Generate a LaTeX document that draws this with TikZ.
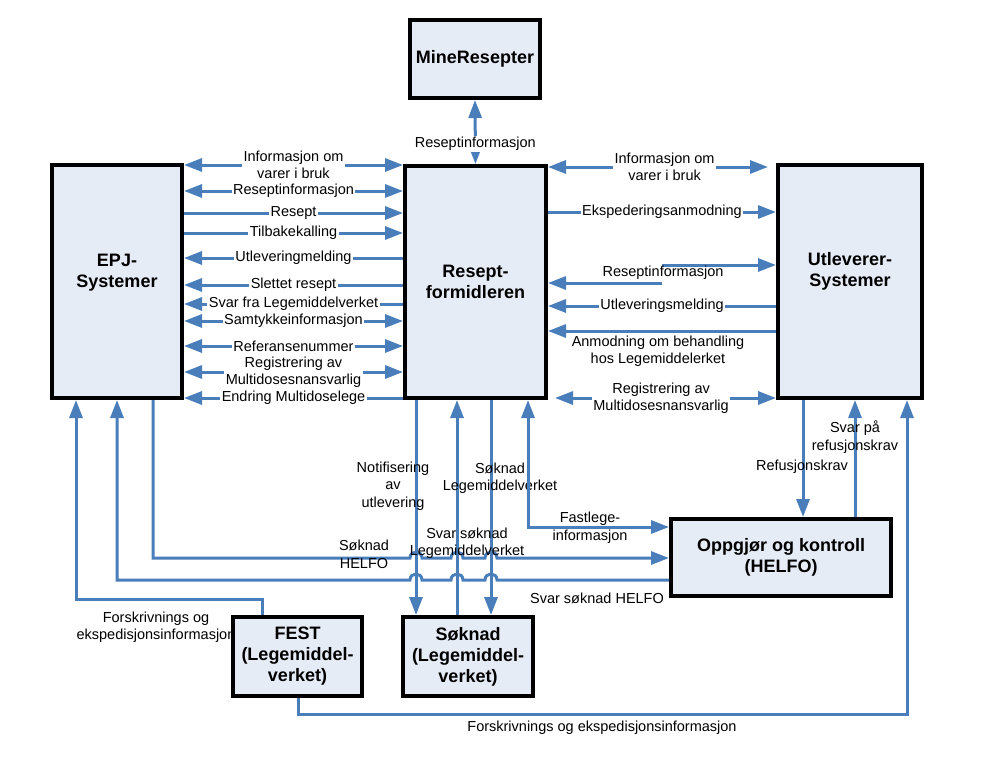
\documentclass[tikz,border=0pt]{standalone}
\usepackage{fontspec}
\setmainfont{Liberation Sans}
\usetikzlibrary{arrows.meta,calc}
\definecolor{lnblue}{RGB}{74,126,187}
\definecolor{boxfill}{RGB}{230,236,246}
\begin{document}
\begin{tikzpicture}[x=1pt,y=-1pt,
  >={Triangle[length=18pt,width=13pt]},
  titlefont/.style={align=center,font=\fontsize{18}{21}\selectfont\bfseries},
  box/.style={draw=black,line width=4pt,fill=boxfill,titlefont,inner sep=0pt},
  conn/.style={draw=lnblue,line width=3pt},
  lbl/.style={font=\fontsize{14.5}{17.5}\selectfont,align=center,inner sep=1.5pt,text=black},
  lblw/.style={lbl,fill=white}]
\useasboundingbox (0,0) rectangle (992,760);

% boxes
\node[box,minimum width=130pt,minimum height=78pt] (mine) at (475,59) {MineResepter};
\node[box,minimum width=130pt,minimum height=233pt,
  label={[titlefont,yshift=8.5pt]center:EPJ-\\Systemer}] (epj) at (117,281.5) {};
\node[box,minimum width=141pt,minimum height=232pt] (rf) at (475.5,282) {Resept-\\formidleren};
\node[box,minimum width=144pt,minimum height=233pt,
  label={[titlefont,yshift=10pt]center:Utleverer-\\Systemer}] (utl) at (850,281.5) {};
\node[box,minimum width=220pt,minimum height=77pt] (opp) at (781,557.5) {Oppgjør og kontroll\\(HELFO)};
\node[box,minimum width=129pt,minimum height=79pt] (fest) at (297.5,656.5) {FEST\\(Legemiddel-\\verket)};
\node[box,minimum width=130pt,minimum height=79pt] (sok) at (468,656.5) {Søknad\\(Legemiddel-\\verket)};

% MineResepter <-> Reseptformidleren
\draw[conn,<->] (mine.south) -- (rf.north) node[lblw,pos=0.69] {Reseptinformasjon};

% EPJ <-> Reseptformidleren
\draw[conn,<->] (epj.east |- 0,165) -- (rf.west |- 0,165) node[lblw,midway] {Informasjon om\\varer i bruk};
\draw[conn,<->] (epj.east |- 0,191) -- (rf.west |- 0,191) node[lblw,midway] {Reseptinformasjon};
\draw[conn,->] (epj.east |- 0,213) -- (rf.west |- 0,213) node[lblw,midway] {Resept};
\draw[conn,->] (epj.east |- 0,233) -- (rf.west |- 0,233) node[lblw,midway] {Tilbakekalling};
\draw[conn,<-] (epj.east |- 0,258) -- (rf.west |- 0,258) node[lblw,midway] {Utleveringmelding};
\draw[conn,<-] (epj.east |- 0,285) -- (rf.west |- 0,285) node[lblw,midway] {Slettet resept};
\draw[conn,<-] (epj.east |- 0,304) -- (rf.west |- 0,304) node[lblw,midway,inner ysep=0.5pt] {Svar fra Legemiddelverket};
\draw[conn,<->] (epj.east |- 0,321) -- (rf.west |- 0,321) node[lblw,midway,inner ysep=0.5pt] {Samtykkeinformasjon};
\draw[conn,<->] (epj.east |- 0,346) -- (rf.west |- 0,346) node[lblw,midway] {Referansenummer};
\draw[conn,<->] (epj.east |- 0,372) -- (rf.west |- 0,372) node[lblw,midway,inner ysep=0.5pt] {Registrering av\\Multidosesnansvarlig};
\draw[conn,<-] (epj.east |- 0,398) -- (rf.west |- 0,398) node[lblw,midway,inner ysep=0.5pt] {Endring Multidoselege};

% Reseptformidleren <-> Utleverer
\coordinate (iv) at (768,167);
\draw[conn,<->] (rf.east |- iv) -- (iv) node[lblw,pos=0.53] {Informasjon om\\varer i bruk};
\draw[conn,->] (rf.east |- 0,212) -- (utl.west |- 0,212) node[lblw,midway] {Ekspederingsanmodning};
\coordinate (ri1) at (662,265);
\coordinate (ri2) at (662,283);
\draw[conn,->] (ri1) -- (utl.west |- ri1);
\draw[conn,->] (ri2) -- (rf.east |- ri2);
\node[lbl] (rilbl) at (663,273) {Reseptinformasjon};
\draw[conn,<-] (rf.east |- 0,306) -- (utl.west |- 0,306) node[lblw,midway] {Utleveringsmelding};
\draw[conn,<-] (rf.east |- 0,331) -- (utl.west |- 0,331);
\node[lbl] (anm) at (658,351) {Anmodning om behandling\\hos Legemiddelerket};
\coordinate (rg) at (555,398);
\draw[conn,<->] (rg) -- (utl.west |- rg) node[lblw,pos=0.48,inner ysep=0.5pt] {Registrering av\\Multidosesnansvarlig};

% Reseptformidleren <-> Søknad
\draw[conn,->] (rf.south -| 416,0) -- (sok.north -| 416,0);
\draw[conn,->] (sok.north -| 457,0) -- (rf.south -| 457,0);
\draw[conn,->] (rf.south -| 491,0) -- (sok.north -| 491,0);
\node[lbl] (notif) at (393,486) {Notifisering\\av\\utlevering};
\node[lbl] (soklv) at (500,478) {Søknad\\Legemiddelverket};

% Fastlegeinformasjon
\draw[conn,<->] (rf.south -| 528,0) -- (528,527) -- (opp.west |- 0,527);
\node[lbl] (fastl) at (590,527.5) {Fastlege-\\informasjon};

% Søknad HELFO (EPJ -> Oppgjør)
\draw[conn,->] (epj.south -| 153,0) -- (153,558) -- (410,558)
  .. controls (410,550) and (422,550) .. (422,558) -- (451,558)
  .. controls (451,550) and (463,550) .. (463,558) -- (485,558)
  .. controls (485,550) and (497,550) .. (497,558) -- (opp.west |- 0,558);
\node[lbl] (sokh) at (364,554.5) {Søknad\\HELFO};
\node[lbl] (svarlv) at (467,543) {Svar søknad\\Legemiddelverket};

% Svar søknad HELFO (Oppgjør -> EPJ)
\draw[conn,->] (opp.west |- 0,580) -- (497,580)
  .. controls (497,572) and (485,572) .. (485,580) -- (463,580)
  .. controls (463,572) and (451,572) .. (451,580) -- (422,580)
  .. controls (422,572) and (410,572) .. (410,580) -- (117,580) -- (epj.south -| 117,0);
\node[lbl] (svarh) at (597,598) {Svar søknad HELFO};

% FEST -> EPJ
\draw[conn,->] (fest.north -| 262,0) -- (262,599) -- (76,599) -- (epj.south -| 76,0);
\node[lbl] (forsk1) at (156,627) {Forskrivnings og\\ekspedisjonsinformasjon};

% FEST -> Utleverer
\draw[conn,->] (fest.south -| 298,0) -- (298,714) -- (907,714) -- (utl.south -| 907,0);
\node[lbl] (forsk2) at (602,728) {Forskrivnings og ekspedisjonsinformasjon};

% Utleverer <-> Oppgjør
\draw[conn,->] (utl.south -| 803,0) -- (opp.north -| 803,0);
\draw[conn,->] (opp.north -| 855,0) -- (utl.south -| 855,0);
\node[lbl] (refk) at (802,467) {Refusjonskrav};
\node[lbl] (svarref) at (855,437) {Svar på\\refusjonskrav};
\end{tikzpicture}
\end{document}
